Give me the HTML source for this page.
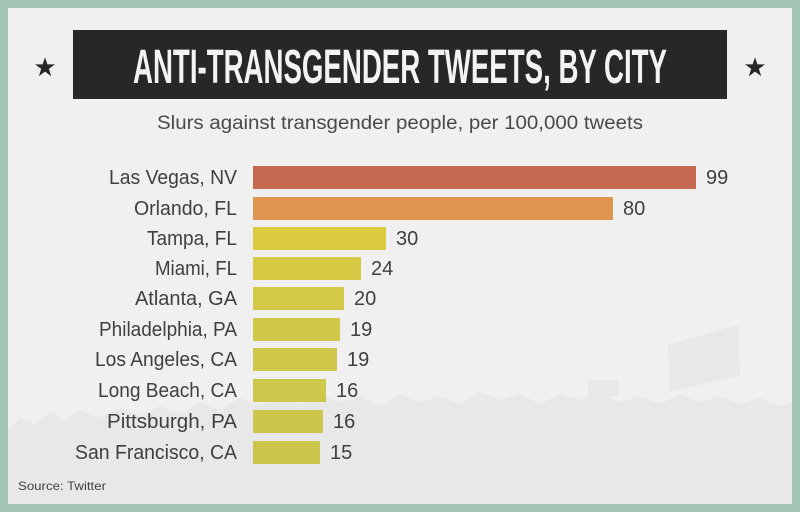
<!DOCTYPE html>
<html><head><meta charset="utf-8"><style>
html,body{margin:0;padding:0;background:#a6c6b5;}
svg{display:block}
</style></head><body>
<svg width="800" height="512" viewBox="0 0 800 512" xmlns="http://www.w3.org/2000/svg" font-family="Liberation Sans, sans-serif">
<rect width="800" height="512" fill="#a6c6b5"/>
<rect x="8" y="8" width="784" height="496" fill="#f0f0f1"/>
<g fill="#e8e8e9">
<path d="M8 430 L20 418 L35 424 L50 412 L65 420 L80 410 L100 418 L120 408 L140 416 L160 406 L180 414 L200 402 L220 410 L240 398 L260 406 L280 396 L300 404 L320 394 L340 402 L360 396 L380 406 L400 394 L420 402 L440 396 L460 404 L480 392 L500 400 L520 394 L540 404 L560 394 L580 400 L600 392 L620 402 L640 396 L660 404 L680 394 L700 402 L720 396 L740 404 L760 398 L780 406 L792 402 L792 504 L8 504Z"/>
<path d="M668 345 L738 325 L740 375 L670 392 Z"/>
<rect x="588" y="380" width="30" height="16"/>
</g>
<rect x="73" y="30" width="654" height="69" fill="#262729"/>
<text x="400" y="83" text-anchor="middle" font-size="48" font-weight="bold" fill="#f3f3f3" textLength="534" lengthAdjust="spacingAndGlyphs">ANTI-TRANSGENDER TWEETS, BY CITY</text>
<text x="45" y="76" text-anchor="middle" font-size="26" fill="#262729">★</text>
<text x="755" y="76" text-anchor="middle" font-size="26" fill="#262729">★</text>
<text x="400" y="129" text-anchor="middle" font-size="19" fill="#4a4a4c" textLength="486" lengthAdjust="spacingAndGlyphs">Slurs against transgender people, per 100,000 tweets</text>
<g font-size="20" fill="#3f3f41">
<rect x="253" y="166" width="443" height="23" fill="#c56a50"/>
<rect x="253" y="197" width="360" height="23" fill="#e0964f"/>
<rect x="253" y="227" width="133" height="23" fill="#dccb3e"/>
<rect x="253" y="257" width="108" height="23" fill="#d6c944"/>
<rect x="253" y="287" width="91" height="23" fill="#d3c946"/>
<rect x="253" y="318" width="87" height="23" fill="#d0c848"/>
<rect x="253" y="348" width="84" height="23" fill="#cfc84a"/>
<rect x="253" y="379" width="73" height="23" fill="#cdc74b"/>
<rect x="253" y="410" width="70" height="23" fill="#ccc64c"/>
<rect x="253" y="441" width="67" height="23" fill="#cbc54c"/>
<g text-anchor="end">
<text x="237" y="184" textLength="128" lengthAdjust="spacingAndGlyphs">Las Vegas, NV</text>
<text x="237" y="215" textLength="103" lengthAdjust="spacingAndGlyphs">Orlando, FL</text>
<text x="237" y="245" textLength="90" lengthAdjust="spacingAndGlyphs">Tampa, FL</text>
<text x="237" y="275" textLength="82" lengthAdjust="spacingAndGlyphs">Miami, FL</text>
<text x="237" y="305" textLength="102" lengthAdjust="spacingAndGlyphs">Atlanta, GA</text>
<text x="237" y="336" textLength="138" lengthAdjust="spacingAndGlyphs">Philadelphia, PA</text>
<text x="237" y="366" textLength="142" lengthAdjust="spacingAndGlyphs">Los Angeles, CA</text>
<text x="237" y="397" textLength="139" lengthAdjust="spacingAndGlyphs">Long Beach, CA</text>
<text x="237" y="428" textLength="130" lengthAdjust="spacingAndGlyphs">Pittsburgh, PA</text>
<text x="237" y="459" textLength="162" lengthAdjust="spacingAndGlyphs">San Francisco, CA</text>
</g>
<text x="706" y="184">99</text>
<text x="623" y="215">80</text>
<text x="396" y="245">30</text>
<text x="371" y="275">24</text>
<text x="354" y="305">20</text>
<text x="350" y="336">19</text>
<text x="347" y="366">19</text>
<text x="336" y="397">16</text>
<text x="333" y="428">16</text>
<text x="330" y="459">15</text>
</g>
<text x="18" y="490" font-size="12" fill="#3f3f41" textLength="88" lengthAdjust="spacingAndGlyphs">Source: Twitter</text>
</svg>
</body></html>
